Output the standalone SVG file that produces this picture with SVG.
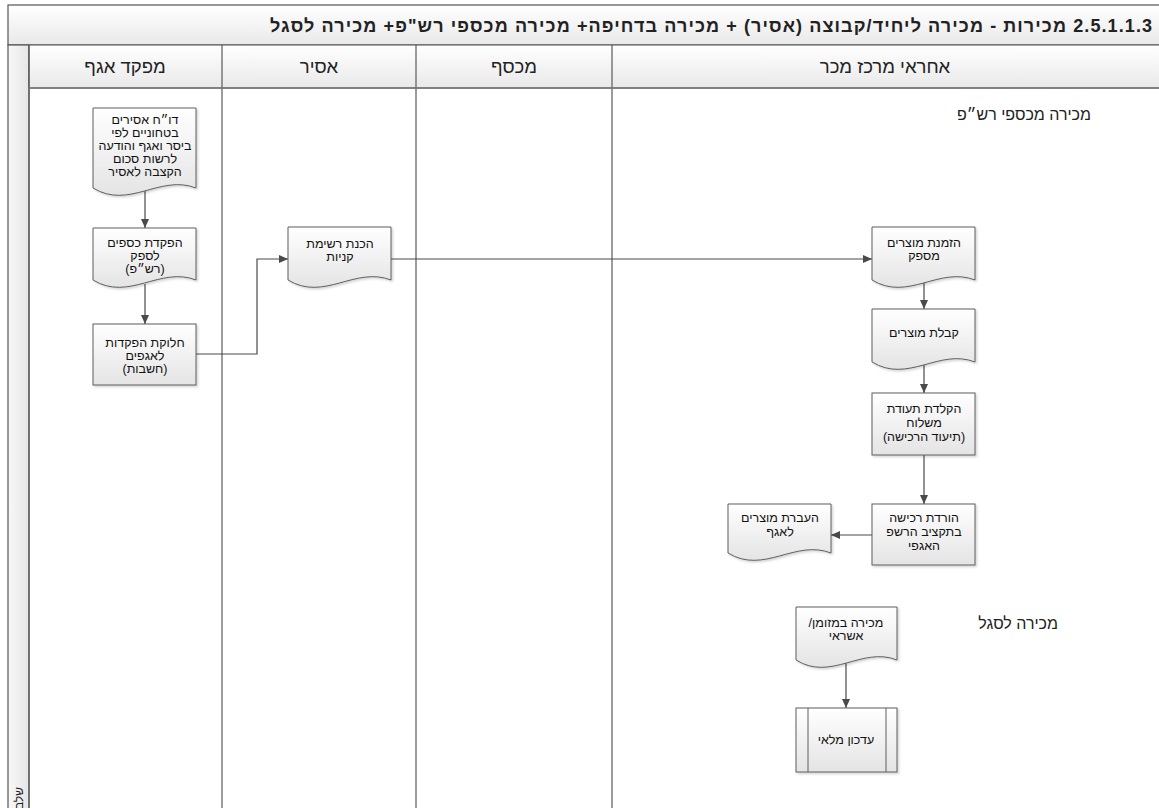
<svg xmlns="http://www.w3.org/2000/svg" width="1159" height="808" viewBox="0 0 1159 808">
<style>
.lane{stroke:#5a5a5a;stroke-width:1.2;fill:none}
.node{fill:url(#ng);stroke:#5e5e5e;stroke-width:1;filter:url(#sh)}
.t{font-family:"Liberation Sans","DejaVu Sans",sans-serif;font-size:12.5px;fill:#111;text-anchor:middle;direction:rtl}
.hd{font-family:"Liberation Sans","DejaVu Sans",sans-serif;font-size:18.5px;fill:#222;text-anchor:middle;direction:rtl}
.lbl{font-family:"Liberation Sans","DejaVu Sans",sans-serif;font-size:16px;fill:#222;text-anchor:start;direction:rtl}
.ca{stroke:#4a4a4a;stroke-width:1.2;fill:none;marker-end:url(#ar)}
</style>
<defs>
<linearGradient id="ng" x1="0" y1="0" x2="0" y2="1"><stop offset="0" stop-color="#ffffff"/><stop offset="1" stop-color="#e4e4e4"/></linearGradient>
<linearGradient id="hg" x1="0" y1="0" x2="0" y2="1"><stop offset="0" stop-color="#ffffff"/><stop offset="1" stop-color="#e9e9e9"/></linearGradient>
<linearGradient id="vg" x1="0" y1="0" x2="1" y2="0"><stop offset="0" stop-color="#f8f8f8"/><stop offset="1" stop-color="#e6e6e6"/></linearGradient>
<filter id="sh" x="-10%" y="-10%" width="130%" height="130%"><feDropShadow dx="1.5" dy="1.5" stdDeviation="1" flood-color="#000" flood-opacity="0.18"/></filter>
<marker id="ar" markerWidth="10" markerHeight="10" refX="9" refY="5" orient="auto" markerUnits="userSpaceOnUse"><path d="M0,1 L9,5 L0,9 Z" fill="#4a4a4a"/></marker>
</defs>
<rect x="0" y="0" width="1159" height="808" fill="#fff"/>
<g id="pool">
<rect x="8" y="5" width="1160" height="40" fill="url(#hg)" stroke="#555" stroke-width="1.2"/>
<text x="1152" y="32" direction="rtl" font-family="Liberation Sans, DejaVu Sans, sans-serif" font-size="18" font-weight="bold" fill="#222" text-anchor="start" textLength="882" lengthAdjust="spacing">2.5.1.1.3 מכירות - מכירה ליחיד/קבוצה (אסיר) + מכירה בדחיפה+ מכירה מכספי רש"פ+ מכירה לסגל</text>
<rect x="8" y="45" width="21" height="770" fill="url(#vg)" stroke="#555" stroke-width="1.2"/>
<rect x="29" y="45" width="1140" height="43" fill="url(#hg)" stroke="#666" stroke-width="1.2"/>
<line class="lane" x1="29" y1="45" x2="29" y2="808"/>
<line class="lane" x1="222" y1="45" x2="222" y2="808"/>
<line class="lane" x1="416" y1="45" x2="416" y2="808"/>
<line class="lane" x1="612" y1="45" x2="612" y2="808"/>
<line x1="29" y1="88" x2="1159" y2="88" stroke="#777" stroke-width="1.5"/>
<text class="hd" x="125" y="73">מפקד אגף</text>
<text class="hd" x="319" y="73">אסיר</text>
<text class="hd" x="514" y="73">מכסף</text>
<text class="hd" x="885" y="73">אחראי מרכז מכר</text>
<text transform="translate(23,787) rotate(-90)" font-family="Liberation Sans, DejaVu Sans, sans-serif" font-size="12" fill="#222" text-anchor="end">שלב</text>
<text class="lbl" x="1091" y="120">מכירה מכספי רש״פ</text>
<text class="lbl" x="1058" y="629">מכירה לסגל</text>
</g>
<g id="connectors">
<line class="ca" x1="145" y1="191" x2="145" y2="228"/>
<line class="ca" x1="145" y1="284" x2="145" y2="324"/>
<path class="ca" d="M196,354 H257 V259 H288"/>
<path class="ca" d="M391,259 H872"/>
<line class="ca" x1="924" y1="283" x2="924" y2="309"/>
<line class="ca" x1="924" y1="365" x2="924" y2="393"/>
<line class="ca" x1="924" y1="455" x2="924" y2="504"/>
<line class="ca" x1="872" y1="535" x2="831" y2="535"/>
<line class="ca" x1="846" y1="663" x2="846" y2="708"/>
</g>
<g id="n1">
<path class="node" d="M93,108 H196 V188 C160,174 129,210 93,188 Z"/>
<text class="t" x="145" y="124">דו״ח אסירים</text>
<text class="t" x="145" y="137">בטחוניים לפי</text>
<text class="t" x="145" y="150">ביסר ואגף והודעה</text>
<text class="t" x="145" y="163">לרשות סכום</text>
<text class="t" x="145" y="176">הקצבה לאסיר</text>
</g>
<g id="n2">
<path class="node" d="M93,228 H196 V280 C160,266 129,302 93,280 Z"/>
<text class="t" x="145" y="247">הפקדת כספים</text>
<text class="t" x="145" y="260">לספק</text>
<text class="t" x="145" y="273">(רש״פ)</text>
</g>
<g id="n3">
<rect class="node" x="93" y="324" width="103" height="61"/>
<text class="t" x="145" y="347">חלוקת הפקדות</text>
<text class="t" x="145" y="360">לאגפים</text>
<text class="t" x="145" y="373">(חשבות)</text>
</g>
<g id="n4">
<path class="node" d="M288,227 H391 V280 C355,266 324,302 288,280 Z"/>
<text class="t" x="340" y="248">הכנת רשימת</text>
<text class="t" x="340" y="261">קניות</text>
</g>
<g id="n5">
<path class="node" d="M872,227 H975 V280 C939,266 908,302 872,280 Z"/>
<text class="t" x="924" y="247">הזמנת מוצרים</text>
<text class="t" x="924" y="260">מספק</text>
</g>
<g id="n6">
<path class="node" d="M872,309 H975 V362 C939,348 908,384 872,362 Z"/>
<text class="t" x="924" y="337">קבלת מוצרים</text>
</g>
<g id="n7">
<rect class="node" x="872" y="393" width="103" height="62"/>
<text class="t" x="924" y="413">הקלדת תעודת</text>
<text class="t" x="924" y="427">משלוח</text>
<text class="t" x="924" y="441">(תיעוד הרכישה)</text>
</g>
<g id="n8">
<rect class="node" x="872" y="504" width="103" height="61"/>
<text class="t" x="924" y="522">הורדת רכישה</text>
<text class="t" x="924" y="536">בתקציב הרשפ</text>
<text class="t" x="924" y="550">האגפי</text>
</g>
<g id="n9">
<path class="node" d="M728,504 H831 V553 C795,539 764,575 728,553 Z"/>
<text class="t" x="780" y="522">העברת מוצרים</text>
<text class="t" x="780" y="536">לאגף</text>
</g>
<g id="n10">
<path class="node" d="M796,607 H897 V660 C862,646 831,682 796,660 Z"/>
<text class="t" x="846" y="627">מכירה במזומן/</text>
<text class="t" x="846" y="640">אשראי</text>
</g>
<g id="n11">
<rect class="node" x="796" y="708" width="101" height="64"/>
<line x1="808" y1="708" x2="808" y2="772" stroke="#5e5e5e" stroke-width="1"/>
<line x1="886" y1="708" x2="886" y2="772" stroke="#5e5e5e" stroke-width="1"/>
<text class="t" x="846" y="744">עדכון מלאי</text>
</g>
</svg>
